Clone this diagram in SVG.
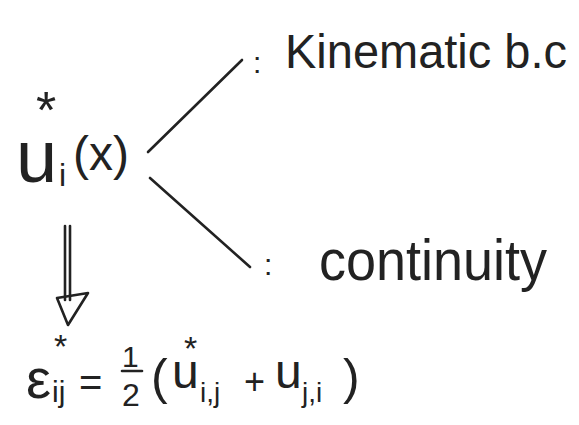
<svg xmlns="http://www.w3.org/2000/svg" width="579" height="425" viewBox="0 0 579 425">
<style>
text{font-family:"Liberation Sans",Arial,sans-serif;fill:#222}
.ln{stroke:#222;stroke-width:2.6;fill:none;stroke-linecap:round;stroke-linejoin:round}
</style>
<rect width="579" height="425" fill="#fff"/>
<g id="connectors">
<line class="ln" x1="148" y1="152" x2="242" y2="60"/>
<line class="ln" x1="150" y1="178" x2="250" y2="267"/>
<line class="ln" x1="65" y1="226" x2="65" y2="300"/>
<line class="ln" x1="70" y1="226" x2="70" y2="300"/>
<polygon class="ln" points="57,298 88,293 68,325"/>
</g>
<g id="u_node">
<text><tspan x="16" y="182" font-size="74">u</tspan><tspan x="36" y="128" font-size="52">*</tspan><tspan x="59" y="186" font-size="32">i</tspan><tspan x="73" y="170" font-size="48">(x)</tspan></text>
</g>
<g id="kinematic">
<text x="253" y="73" font-size="30">:</text>
<text x="285" y="68" font-size="48" textLength="282" lengthAdjust="spacingAndGlyphs">Kinematic b.c</text>
</g>
<g id="continuity">
<text x="264" y="275" font-size="30">:</text>
<text x="319" y="280" font-size="58" textLength="228" lengthAdjust="spacingAndGlyphs">continuity</text>
</g>
<g id="strain">
<text><tspan x="26" y="398" font-size="56">ε</tspan><tspan x="54" y="358" font-size="34">*</tspan><tspan x="52" y="402" font-size="30">ij</tspan></text>
<text x="79" y="396" font-size="40">=</text>
<text x="122" y="367" font-size="30">1</text>
<line class="ln" x1="122" y1="371" x2="142" y2="371" stroke-width="2"/>
<text x="122" y="406" font-size="32">2</text>
<text x="151" y="394" font-size="50">(</text>
<text><tspan x="172" y="388" font-size="48">u</tspan><tspan x="184" y="360" font-size="34">*</tspan><tspan x="200" y="402" font-size="28">i,j</tspan></text>
<text x="244" y="394" font-size="36">+</text>
<text><tspan x="275" y="388" font-size="48">u</tspan><tspan x="302" y="402" font-size="28">j,i</tspan></text>
<text x="343" y="394" font-size="50">)</text>
</g>
</svg>
